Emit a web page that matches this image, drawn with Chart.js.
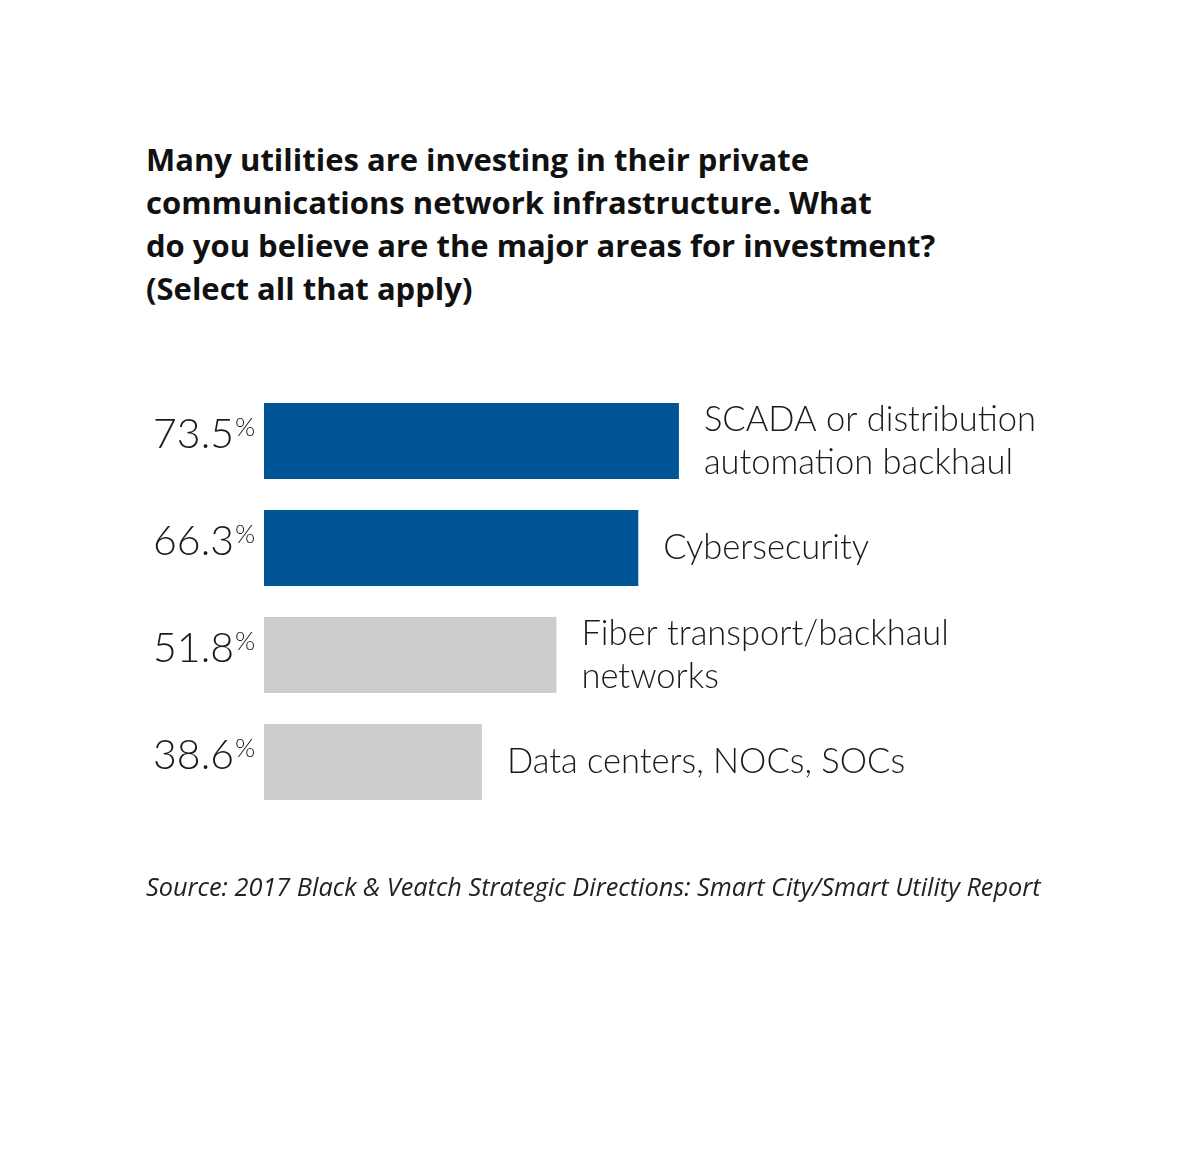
<!DOCTYPE html>
<html>
<head>
<meta charset="utf-8">
<script src="https://cdn.jsdelivr.net/npm/chart.js@4"></script>
<style>
  html, body { margin: 0; padding: 0; background: #fff; }
  body { width: 1200px; height: 1163px; position: relative; overflow: hidden; font-family: Lato, "Open Sans", sans-serif; }
  #title { position: absolute; left: 146px; top: 138px; font-family: "Open Sans", sans-serif; font-size: 31px; font-weight: 700; line-height: 43px; color: #111; }
  #source { position: absolute; left: 146px; top: 869px; font-family: "Open Sans", sans-serif; font-size: 25.3px; font-style: italic; font-weight: 400; color: #222; }
  #wrap { position: absolute; left: 0; top: 0; width: 1200px; height: 1163px; }
</style>
</head>
<body>
<div id="title">Many utilities are investing in their private<br>communications network infrastructure. What<br>do you believe are the major areas for investment?<br>(Select all that apply)</div>
<div id="wrap"><canvas id="chart"></canvas></div>
<div id="source">Source: 2017 Black &amp; Veatch Strategic Directions: Smart City/Smart Utility Report</div>
<script>
const categories = [
    ['SCADA or distribution', 'automation backhaul'],
    ['Cybersecurity'],
    ['Fiber transport/backhaul', 'networks'],
    ['Data centers, NOCs, SOCs']
];
const values = [73.5, 66.3, 51.8, 38.6];
const barColors = ['#005596', '#005596', '#cccccc', '#cccccc'];

// draws the value on the left and the category name after the bar
const labelPlugin = {
    id: 'barLabels',
    afterDatasetsDraw(chart) {
        const ctx = chart.ctx;
        const meta = chart.getDatasetMeta(0);
        meta.data.forEach(function(bar, i) {
            const y = bar.y;
            const left = chart.chartArea.left;
            ctx.save();
            ctx.fillStyle = '#1a1a1a';
            ctx.textBaseline = 'middle';

            // value + superscript %
            ctx.font = '300 41px Lato, sans-serif';
            ctx.textAlign = 'right';
            ctx.fillText(values[i].toFixed(1), left - 30, y - 6);
            ctx.font = '300 26px Lato, sans-serif';
            ctx.textAlign = 'left';
            ctx.fillText('%', left - 29, y - 13);

            // category text
            ctx.font = '300 34.5px Lato, sans-serif';
            const lines = categories[i];
            const lineH = 43;
            const startY = y - (lines.length - 1) * lineH / 2;
            lines.forEach(function(line, j) {
                ctx.fillText(line, bar.x + 25, startY + j * lineH);
            });
            ctx.restore();
        });
    }
};

new Chart(document.getElementById('chart'), {
    type: 'bar',
    data: {
        labels: categories.map(c => c.join(' ')),
        datasets: [{
            data: values,
            backgroundColor: barColors,
            borderWidth: 0,
            barPercentage: 0.71,
            categoryPercentage: 1.0
        }]
    },
    options: {
        indexAxis: 'y',
        responsive: true,
        maintainAspectRatio: false,
        animation: false,
        layout: {
            padding: { left: 264, right: 371.5, top: 387.5, bottom: 347.5 }
        },
        scales: {
            x: { display: false, min: 0, max: 100 },
            y: { display: false }
        },
        plugins: {
            legend: { display: false },
            tooltip: { enabled: false }
        }
    },
    plugins: [labelPlugin]
});
</script>
</body>
</html>
